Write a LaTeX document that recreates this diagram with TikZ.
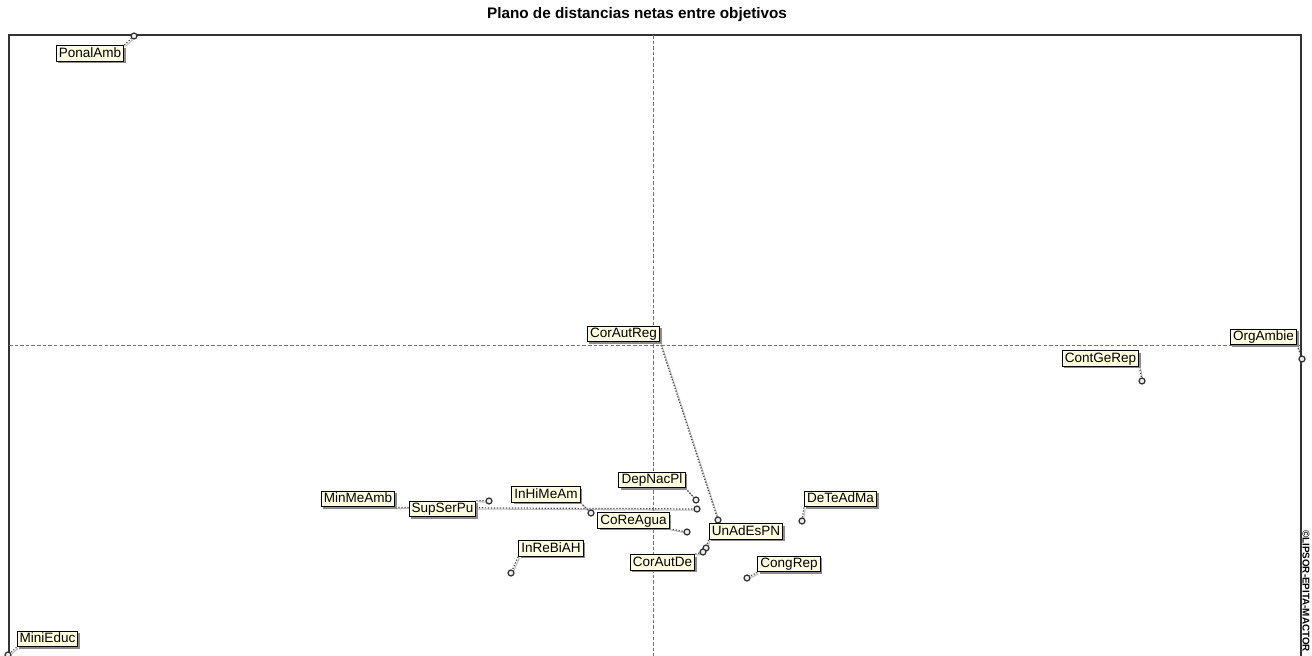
\documentclass[tikz,border=0pt]{standalone}
\usepackage{fontspec}
\setmainfont{Liberation Sans}
\usetikzlibrary{shadows,backgrounds}
\begin{document}
\begin{tikzpicture}[x=0.02cm, y=-0.02cm,
  objlabel/.style={draw=black, line width=0.55pt, fill=yellow!12, inner xsep=1.5pt, inner ysep=0.9pt,
    text height=5.8pt, text depth=1.4pt, font=\fontsize{7.7}{8}\selectfont,
    drop shadow={shadow xshift=1.1pt, shadow yshift=-1.1pt, fill=black!45, opacity=1}},
  objpoint/.style={circle, draw=black!80, fill=gray!15, line width=0.7pt, inner sep=0pt, minimum size=3.4pt},
  leader/.style={densely dotted, line width=0.7pt, black!70,
    preaction={draw=black!25, solid, line width=0.6pt, transform canvas={shift={(0.7pt,-0.7pt)}}}},
  axisline/.style={dash pattern=on 2pt off 1.2pt, black!55, line width=0.5pt}]
\useasboundingbox (0,0) rectangle (1312,656);
% frame and axes
\draw[black!80, line width=0.9pt] (9,656) -- (9,35) -- (1301,35) -- (1301,656);
\draw[axisline] (653,35) -- (653,656);
\draw[axisline] (9,345) -- (1301,345);
\node[font=\fontsize{8.7}{10}\selectfont\bfseries] (title) at (637,15) {Plano de distancias netas entre objetivos};
\node[rotate=-90, font=\fontsize{5.6}{6}\selectfont\bfseries, inner sep=0pt] (sello) at (1306,591) {©LIPSOR-EPITA-MACTOR};
% points
\node[objpoint] (pPonal) at (134,36) {};
\node[objpoint] (pCorReg) at (718,520) {};
\node[objpoint] (pOrgAm) at (1302,359) {};
\node[objpoint] (pContGe) at (1142,381) {};
\node[objpoint] (pMinMe) at (697,509) {};
\node[objpoint] (pSupSer) at (489,501) {};
\node[objpoint] (pInHi) at (591,513) {};
\node[objpoint] (pDepNac) at (696,500) {};
\node[objpoint] (pCoRe) at (687,532) {};
\node[objpoint] (pUnAd) at (706,548) {};
\node[objpoint] (pCorDe) at (703,552) {};
\node[objpoint] (pInRe) at (511,573) {};
\node[objpoint] (pDeTe) at (802,521) {};
\node[objpoint] (pCong) at (747,578) {};
\node[objpoint] (pMini) at (8,655) {};
% labels
\node[objlabel] (lPonal) at (90,53.5) {PonalAmb};
\node[objlabel] (lCorReg) at (623.5,334) {CorAutReg};
\node[objlabel] (lOrgAm) at (1263.5,337) {OrgAmbie};
\node[objlabel] (lContGe) at (1100.5,358.5) {ContGeRep};
\node[objlabel] (lMinMe) at (358,499) {MinMeAmb};
\node[objlabel] (lSupSer) at (442.5,509) {SupSerPu};
\node[objlabel] (lInHi) at (546,494.5) {InHiMeAm};
\node[objlabel] (lDepNac) at (652,480) {DepNacPl};
\node[objlabel] (lCoRe) at (633.5,520.5) {CoReAgua};
\node[objlabel] (lUnAd) at (746,531.5) {UnAdEsPN};
\node[objlabel] (lCorDe) at (662.5,562.5) {CorAutDe};
\node[objlabel] (lInRe) at (551,548.5) {InReBiAH};
\node[objlabel] (lDeTe) at (840.5,499) {DeTeAdMa};
\node[objlabel] (lCong) at (789,564) {CongRep};
\node[objlabel] (lMini) at (47.5,639) {MiniEduc};
% leaders
\begin{scope}[on background layer]
\draw[leader] (lPonal.north east) -- (pPonal);
\draw[leader] (lCorReg.south east) -- (pCorReg);
\draw[leader] (lOrgAm.south east) -- (pOrgAm);
\draw[leader] (lContGe.south east) -- (pContGe);
\draw[leader] (lMinMe.south east) -- (pMinMe);
\draw[leader] (lSupSer.north east) -- (pSupSer);
\draw[leader] (lInHi.south east) -- (pInHi);
\draw[leader] (lDepNac.south east) -- (pDepNac);
\draw[leader] (lCoRe.south east) -- (pCoRe);
\draw[leader] (lUnAd.south west) -- (pUnAd);
\draw[leader] (lCorDe.north east) -- (pCorDe);
\draw[leader] (lInRe.south west) -- (pInRe);
\draw[leader] (lDeTe.south west) -- (pDeTe);
\draw[leader] (lCong.south west) -- (pCong);
\draw[leader] (lMini.south west) -- (pMini);
\end{scope}
\end{tikzpicture}
\end{document}
